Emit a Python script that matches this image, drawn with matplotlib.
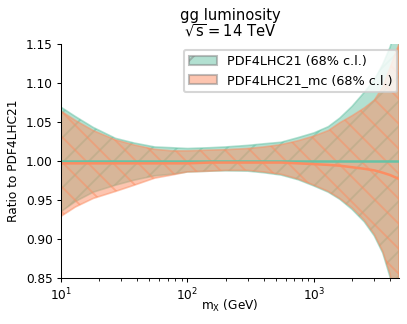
import matplotlib
matplotlib.use("Agg")
import matplotlib.pyplot as plt
import matplotlib.patches as mpatches

# ratio of gg luminosity to PDF4LHC21, sqrt(s) = 14 TeV
mass = [10, 13, 18, 27, 38, 55, 75, 100, 150, 200, 300, 400, 550, 750,
        1000, 1300, 1600, 2000, 2500, 3000, 3500, 4000, 4700]

ref_central = [1.0, 1.0, 1.0, 1.0, 1.0, 1.0, 1.0, 1.0, 1.0, 1.0, 1.0, 1.0,
               1.0, 1.0, 1.0, 1.0, 1.0, 1.0, 1.0, 1.0, 1.0, 1.0, 1.0]
ref_up = [1.069, 1.057, 1.043, 1.029, 1.023, 1.018, 1.017, 1.016, 1.017, 1.018,
          1.020, 1.022, 1.024, 1.030, 1.036, 1.044, 1.055, 1.070, 1.088, 1.104,
          1.124, 1.146, 1.185]
ref_down = [0.935, 0.948, 0.960, 0.969, 0.9755, 0.981, 0.983, 0.986, 0.987, 0.9875,
            0.987, 0.985, 0.982, 0.976, 0.968, 0.960, 0.951, 0.938, 0.922, 0.904,
            0.882, 0.851, 0.79]

mc_central = [0.997, 0.997, 0.997, 0.997, 0.997, 0.997, 0.997, 0.997, 0.998, 0.998,
              0.998, 0.998, 0.998, 0.997, 0.996, 0.995, 0.994, 0.992, 0.990, 0.988,
              0.985, 0.982, 0.977]
mc_up = [1.064, 1.052, 1.039, 1.027, 1.0205, 1.015, 1.013, 1.013, 1.014, 1.0145,
         1.016, 1.018, 1.021, 1.026, 1.032, 1.039, 1.049, 1.058, 1.068, 1.078,
         1.095, 1.120, 1.150]
mc_down = [0.929, 0.941, 0.952, 0.961, 0.969, 0.978, 0.982, 0.986, 0.987, 0.988,
           0.988, 0.986, 0.983, 0.977, 0.969, 0.961, 0.952, 0.940, 0.924, 0.906,
           0.884, 0.855, 0.78]

labels = ["PDF4LHC21 (68% c.l.)", "PDF4LHC21_mc (68% c.l.)"]
colors = ["#66c2a5", "#fc8d62"]
hatches = ["//", "\\\\"]

plt.rcParams["font.size"] = 5.8
plt.rcParams["mathtext.default"] = "regular"
plt.rcParams["axes.linewidth"] = 0.5
plt.rcParams["hatch.linewidth"] = 0.9
for a in ("xtick", "ytick"):
    plt.rcParams[a + ".major.size"] = 2.0
    plt.rcParams[a + ".minor.size"] = 1.2
    plt.rcParams[a + ".major.width"] = 0.5
    plt.rcParams[a + ".minor.width"] = 0.4
    plt.rcParams[a + ".major.pad"] = 2.0

fig = plt.figure(figsize=(407 / 150, 324 / 150), dpi=150)
ax = fig.add_axes([61 / 407, 1 - 278 / 324, 338 / 407, 234 / 324])

bands = [(ref_central, ref_down, ref_up), (mc_central, mc_down, mc_up)]
handles = []
for (cv, lo, hi), color, hatch, label in zip(bands, colors, hatches, labels):
    ax.fill_between(mass, lo, hi, color=color, alpha=0.5, hatch=hatch,
                    linewidth=0.8, zorder=1)
    handles.append(mpatches.Patch(facecolor=color, edgecolor="gray", alpha=0.5,
                                  hatch=hatch[0], label=label))
for (cv, lo, hi), color in zip(bands, colors):
    ax.plot(mass, cv, color=color, lw=1.2, zorder=2)

ax.set_xscale("log")
ax.set_xlim(10, 4700)
ax.set_ylim(0.85, 1.15)
ax.set_yticks([0.85, 0.90, 0.95, 1.00, 1.05, 1.10, 1.15])
ax.spines["top"].set_visible(False)
ax.spines["right"].set_visible(False)

ax.set_xlabel("$m_X$ (GeV)", labelpad=-2.5)
ax.set_ylabel("Ratio to PDF4LHC21", labelpad=3)
ax.set_title("gg luminosity\n$\\sqrt{s}=14$ TeV", fontsize=7.1, pad=3.5,
             linespacing=1.0)
ax.legend(handles=handles, loc="upper right", bbox_to_anchor=(0.995, 0.975),
          borderaxespad=0, fontsize=6.1, handlelength=2.2)

fig.savefig("out.png", dpi=150)
